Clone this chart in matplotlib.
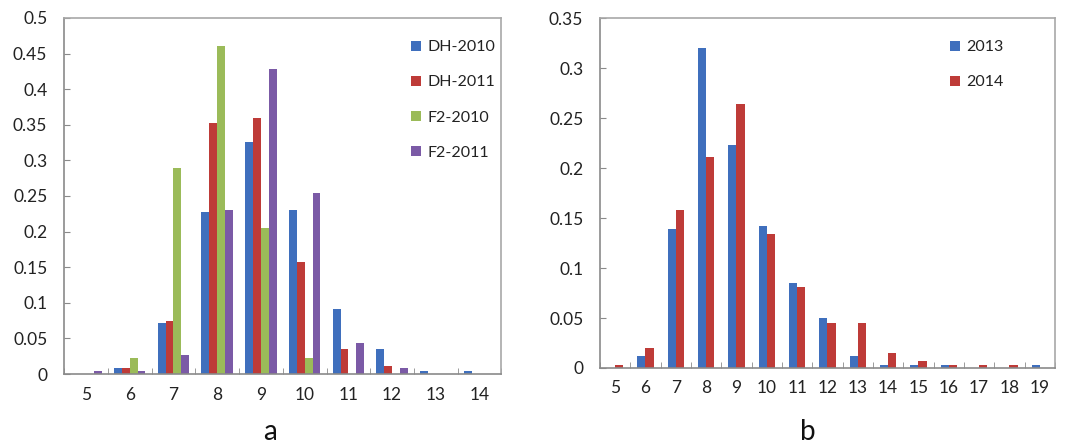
import numpy as np
import matplotlib
matplotlib.use('Agg')
import matplotlib.pyplot as plt
from matplotlib.ticker import FuncFormatter

plt.rcParams['font.family'] = ['Lato', 'DejaVu Sans']

# panel a
cats_a = [5, 6, 7, 8, 9, 10, 11, 12, 13, 14]
dh_2010 = [0, 0.008, 0.072, 0.227, 0.326, 0.230, 0.092, 0.035, 0.004, 0.004]
dh_2011 = [0, 0.008, 0.074, 0.353, 0.360, 0.158, 0.035, 0.012, 0, 0]
f2_2010 = [0, 0.022, 0.290, 0.460, 0.205, 0.022, 0, 0, 0, 0]
f2_2011 = [0.005, 0.004, 0.027, 0.231, 0.428, 0.254, 0.043, 0.009, 0, 0]
labels_a = ['DH-2010', 'DH-2011', 'F2-2010', 'F2-2011']

# panel b
cats_b = [5, 6, 7, 8, 9, 10, 11, 12, 13, 14, 15, 16, 17, 18, 19]
y2013 = [0, 0.012, 0.139, 0.320, 0.223, 0.142, 0.085, 0.050, 0.012, 0.003, 0.003, 0.003, 0, 0, 0.003]
y2014 = [0.003, 0.020, 0.158, 0.211, 0.264, 0.134, 0.081, 0.045, 0.045, 0.015, 0.007, 0.003, 0.003, 0.003, 0]
labels_b = ['2013', '2014']

colors = ['#3F6FBD', '#BE3B38', '#9BBB59', '#7B5AA6']
spine_col = '#8A8A8A'


def fmt(v, pos):
    return ('%g' % round(v, 3))


def style_axis(ax, cats, ymax, ystep):
    ax.set_xlim(cats[0] - 0.5, cats[-1] + 0.5)
    ax.set_ylim(0, ymax)
    ax.set_xticks(cats)
    ax.set_xticks(np.arange(cats[0] - 0.5, cats[-1] + 0.6, 1), minor=True)
    ax.set_yticks(np.arange(0, ymax + ystep / 2, ystep))
    ax.yaxis.set_major_formatter(FuncFormatter(fmt))
    ax.tick_params(axis='x', which='major', length=0, pad=9, labelsize=12.5, labelcolor='#222222')
    ax.tick_params(axis='x', which='minor', direction='in', length=4, color=spine_col)
    ax.tick_params(axis='y', direction='in', length=4, color=spine_col, pad=12,
                   labelsize=12.5, labelcolor='#222222')
    for s in ax.spines.values():
        s.set_color(spine_col)
        s.set_linewidth(1.2)
    ax.spines['top'].set_color('#A8A8A8')
    ax.spines['right'].set_color('#A8A8A8')


fig = plt.figure(figsize=(10.67, 4.48), dpi=100)

ax1 = fig.add_axes([0.060, 0.165, 0.410, 0.795])
w = 0.18
x = np.array(cats_a, dtype=float)
for i, (vals, lab) in enumerate(zip([dh_2010, dh_2011, f2_2010, f2_2011], labels_a)):
    ax1.bar(x + (i - 1.5) * w, vals, width=w, color=colors[i], label=lab)
style_axis(ax1, cats_a, 0.5, 0.05)
ax1.legend(loc='upper left', bbox_to_anchor=(0.372, 0.942), bbox_transform=fig.transFigure,
           frameon=False, fontsize=11.5, handlelength=0.6, handleheight=0.6,
           handletextpad=0.4, labelspacing=1.32, labelcolor='#222222')

ax2 = fig.add_axes([0.5623, 0.1786, 0.4264, 0.781])
w2 = 0.27
xb = np.array(cats_b, dtype=float)
for i, (vals, lab) in enumerate(zip([y2013, y2014], labels_b)):
    ax2.bar(xb + (i - 0.5) * w2, vals, width=w2, color=colors[i], label=lab)
style_axis(ax2, cats_b, 0.35, 0.05)
ax2.legend(loc='upper left', bbox_to_anchor=(0.877, 0.942), bbox_transform=fig.transFigure,
           frameon=False, fontsize=11.5, handlelength=0.6, handleheight=0.6,
           handletextpad=0.4, labelspacing=1.32, labelcolor='#222222')

fig.text(0.253, 0.035, 'a', fontsize=20, ha='center', va='center', color='#111111')
fig.text(0.757, 0.035, 'b', fontsize=20, ha='center', va='center', color='#111111')

fig.savefig('out.png', dpi=100)
